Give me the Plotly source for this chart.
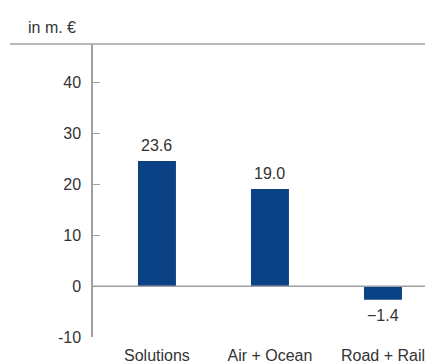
import plotly.graph_objects as go

categories = ["Solutions", "Air + Ocean", "Road + Rail"]
bar_values = [24.6, 19.1, -2.7]
value_labels = ["23.6", "19.0", "\u22121.4"]
y_tick_vals = [-10, 0, 10, 20, 30, 40]
y_tick_text = ["-10", "0", "10", "20", "30", "40"]
unit_label = "in m. \u20ac"

BAR_COLOR = "#0B4185"
AXIS_COLOR = "#a0a0a0"
TEXT_COLOR = "#333333"
FONT = "Liberation Sans"
FS = 16

x_pos = list(range(len(categories)))

fig = go.Figure()
fig.add_trace(go.Bar(
    x=x_pos, y=bar_values, width=0.336,
    marker=dict(color=BAR_COLOR, line=dict(width=0)),
    hoverinfo="skip",
))

for xi, v, lab in zip(x_pos, bar_values, value_labels):
    fig.add_annotation(
        x=xi, y=v, text=lab, showarrow=False,
        yanchor="bottom" if v >= 0 else "top",
        yshift=5 if v >= 0 else -5,
        font=dict(family=FONT, size=FS, color=TEXT_COLOR),
    )

W, H = 425, 363
ml, mr, mt, mb = 93, 0, 44, 26
pw = W - ml - mr

fig.add_annotation(
    xref="paper", yref="paper", x=(26 - ml) / pw, y=1, yshift=17,
    xanchor="left", yanchor="middle", showarrow=False, text=unit_label,
    font=dict(family=FONT, size=FS, color=TEXT_COLOR),
)

fig.add_shape(type="line", xref="paper", yref="paper",
              x0=(10 - ml) / pw, x1=1, y0=1, y1=1,
              line=dict(color=AXIS_COLOR, width=1.5))
fig.add_shape(type="line", xref="paper", yref="y",
              x0=0, x1=1, y0=0, y1=0,
              line=dict(color=AXIS_COLOR, width=1.5))

fig.update_layout(
    width=W, height=H,
    margin=dict(l=ml, r=mr, t=mt, b=mb, autoexpand=False),
    plot_bgcolor="white", paper_bgcolor="white",
    showlegend=False,
    font=dict(family=FONT, size=FS, color=TEXT_COLOR),
    xaxis=dict(
        range=[-0.566, 2.372], tickvals=x_pos, ticktext=categories,
        showline=False, showgrid=False, zeroline=False, ticks="",
        tickfont=dict(size=FS, color=TEXT_COLOR), automargin=False,
        ticklabelstandoff=7, fixedrange=True,
    ),
    yaxis=dict(
        range=[-10, 47.6], tickvals=y_tick_vals, ticktext=y_tick_text,
        showline=True, linecolor=AXIS_COLOR, linewidth=1.5,
        ticks="inside", ticklen=7, tickcolor=AXIS_COLOR, tickwidth=1,
        showgrid=False, zeroline=False, automargin=False,
        tickfont=dict(size=FS, color=TEXT_COLOR), ticklabelstandoff=7,
        fixedrange=True,
    ),
)

fig.write_html("out.html", config=dict(displayModeBar=False))
